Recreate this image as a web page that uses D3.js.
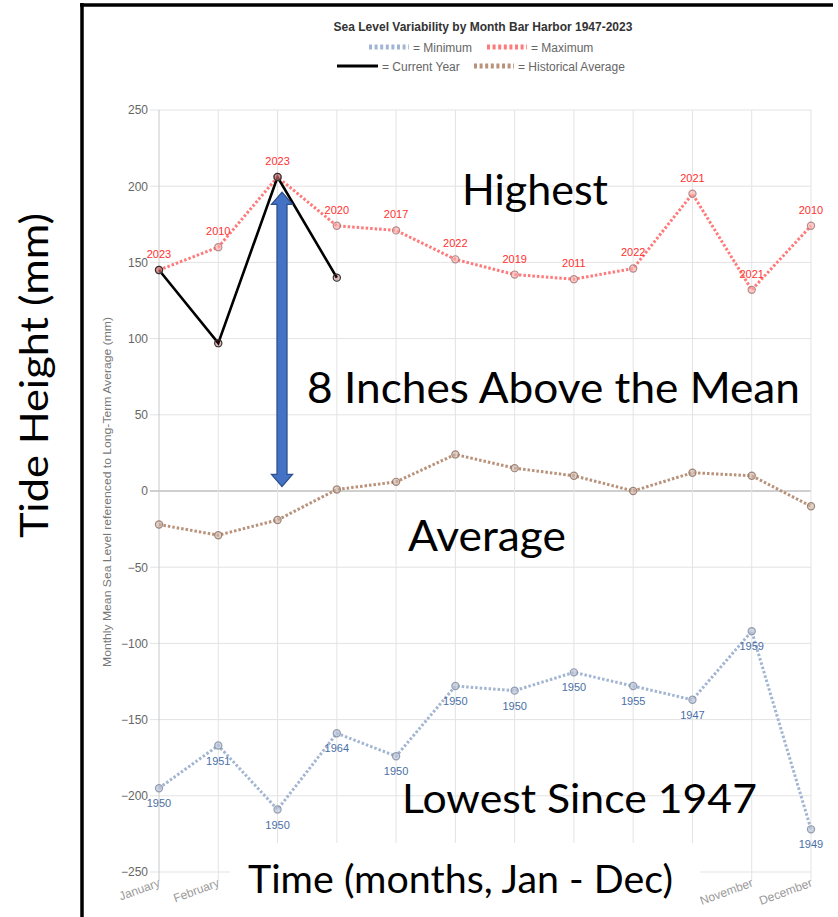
<!DOCTYPE html>
<html>
<head>
<meta charset="utf-8">
<script src="https://cdn.jsdelivr.net/npm/d3@7"></script>
<style>
  html, body { margin: 0; padding: 0; background: #fff; }
  svg { display: block; }
</style>
</head>
<body>
<svg id="chart" width="838" height="917"></svg>
<script>
// ---- data ----
const months = ["January","February","March","April","May","June","July","August","September","October","November","December"];
const maxVals = [145, 160, 206, 174, 171, 152, 142, 139, 146, 195, 132, 174];
const maxYears = ["2023","2010","2023","2020","2017","2022","2019","2011","2022","2021","2021","2010"];
const minVals = [-195, -167, -209, -159, -174, -128, -131, -119, -128, -137, -92, -222];
const minYears = ["1950","1951","1950","1964","1950","1950","1950","1950","1955","1947","1959","1949"];
const avgVals = [-22, -29, -19, 1, 6, 24, 15, 10, 0, 12, 10, -10];
const currentVals = [145, 97, 206, 140];
const yTicks = [250, 200, 150, 100, 50, 0, -50, -100, -150, -200, -250];

const svg = d3.select("#chart");
const x = d3.scalePoint().domain(months).range([159, 811]);
const y = d3.scaleLinear().domain([-250, 250]).range([872, 110]);

const sans = "'Liberation Sans', Arial, sans-serif";
const big = "Lato, 'Open Sans', sans-serif";

// ---- grid ----
const grid = svg.append("g");
grid.selectAll("line.h").data(yTicks).join("line")
  .attr("x1", 150).attr("x2", 811)
  .attr("y1", d => y(d)).attr("y2", d => y(d))
  .attr("stroke", d => d === 0 ? "#a0a0a0" : "#e3e3e3").attr("stroke-width", 1);
grid.selectAll("line.v").data(months).join("line")
  .attr("x1", d => x(d)).attr("x2", d => x(d))
  .attr("y1", 110).attr("y2", 881)
  .attr("stroke", (d, i) => i === 0 ? "#c8c8c8" : "#e3e3e3").attr("stroke-width", 1);

// y axis tick labels via d3 axis
const yAxis = svg.append("g").attr("transform", "translate(159,0)")
  .call(d3.axisLeft(y).tickValues(yTicks).tickSize(0).tickPadding(11));
yAxis.select(".domain").remove();
yAxis.selectAll("text").attr("font-family", sans).attr("font-size", 12).attr("fill", "#666");

// y axis title (small)
svg.append("text")
  .attr("transform", "translate(111,492) rotate(-90)")
  .attr("text-anchor", "middle")
  .attr("font-family", sans).attr("font-size", 10.5).attr("fill", "#777")
  .attr("textLength", 350).attr("lengthAdjust", "spacingAndGlyphs")
  .text("Monthly Mean Sea Level referenced to Long-Term Average (mm)");

// x labels
svg.selectAll("text.xl").data(months).join("text")
  .attr("class", "xl")
  .attr("transform", d => `translate(${x(d) + 2},886) rotate(-20)`)
  .attr("text-anchor", "end")
  .attr("font-family", sans).attr("font-size", 12).attr("fill", "#9a9a9a")
  .text(d => d);

// ---- lines ----
const line = d3.line().x((d, i) => x(months[i])).y(d => y(d));

function series(vals, color, dashed, width) {
  const p = svg.append("path").datum(vals)
    .attr("d", line).attr("fill", "none")
    .attr("stroke", color).attr("stroke-width", width);
  if (dashed) p.attr("stroke-dasharray", "2.5,2");
}
series(avgVals, "#b8927a", true, 3);
series(minVals, "#a3b6d1", true, 3);
series(maxVals, "#ff7a7a", true, 3);
series(currentVals, "#000", false, 2.6);

function points(vals, fill, stroke) {
  svg.append("g").selectAll("circle").data(vals).join("circle")
    .attr("cx", (d, i) => x(months[i])).attr("cy", d => y(d))
    .attr("r", 3.6).attr("fill", fill).attr("stroke", stroke).attr("stroke-width", 1.2);
}
points(avgVals, "rgba(205,180,165,0.6)", "rgba(140,110,95,0.8)");
points(minVals, "rgba(185,195,215,0.7)", "rgba(130,140,160,0.8)");
points(maxVals, "rgba(255,170,170,0.6)", "rgba(160,120,120,0.8)");
points(currentVals, "rgba(120,0,0,0.25)", "#333");

// data labels
svg.append("g").selectAll("text").data(maxYears).join("text")
  .attr("x", (d, i) => x(months[i])).attr("y", (d, i) => y(maxVals[i]) - 12)
  .attr("text-anchor", "middle").attr("font-family", sans).attr("font-size", 11)
  .attr("fill", "#ff3030").text(d => d);
svg.append("g").selectAll("text").data(minYears).join("text")
  .attr("x", (d, i) => x(months[i])).attr("y", (d, i) => y(minVals[i]) + 19)
  .attr("text-anchor", "middle").attr("font-family", sans).attr("font-size", 11)
  .attr("fill", "#4a6fa5").text(d => d);

// ---- title & legend ----
svg.append("text").attr("x", 483).attr("y", 31).attr("text-anchor", "middle")
  .attr("font-family", sans).attr("font-size", 12).attr("font-weight", "bold")
  .attr("fill", "#333").text("Sea Level Variability by Month Bar Harbor 1947-2023");

const legendItems = [
  {x1: 369, x2: 409, y: 47, color: "#a3b6d1", dashed: true, label: "= Minimum"},
  {x1: 487, x2: 527, y: 47, color: "#ff7a7a", dashed: true, label: "= Maximum"},
  {x1: 337, x2: 378, y: 66, color: "#000", dashed: false, label: "= Current Year"},
  {x1: 474, x2: 514, y: 66, color: "#b8927a", dashed: true, label: "= Historical Average"}
];
legendItems.forEach(it => {
  const l = svg.append("line").attr("x1", it.x1).attr("x2", it.x2).attr("y1", it.y).attr("y2", it.y)
    .attr("stroke", it.color).attr("stroke-width", it.dashed ? 5 : 3);
  if (it.dashed) l.attr("stroke-dasharray", "3,2.6");
  svg.append("text").attr("x", it.x2 + 4).attr("y", it.y + 4.5)
    .attr("font-family", sans).attr("font-size", 12).attr("fill", "#666").text(it.label);
});

// ---- arrow ----
const ax = 282, aTop = y(196), aBot = y(3), hw = 10.5, sw = 5, hl = 12;
svg.append("path")
  .attr("d", `M${ax},${aTop} L${ax+hw},${aTop+hl} L${ax+sw},${aTop+hl} L${ax+sw},${aBot-hl} L${ax+hw},${aBot-hl} L${ax},${aBot} L${ax-hw},${aBot-hl} L${ax-sw},${aBot-hl} L${ax-sw},${aTop+hl} L${ax-hw},${aTop+hl} Z`)
  .attr("fill", "#4472c4").attr("stroke", "#2f528f").attr("stroke-width", 1.3);

// ---- annotations ----
function ann(txt, x0, x1, base, size) {
  svg.append("text").attr("x", x0).attr("y", base)
    .attr("font-family", big).attr("font-size", size).attr("fill", "#000")
    .attr("textLength", x1 - x0).attr("lengthAdjust", "spacingAndGlyphs")
    .text(txt);
}
ann("Highest", 462, 608, 205, 42);
ann("8 Inches Above the Mean", 307, 800, 403, 42);
ann("Average", 408, 566, 551, 42);
ann("Lowest Since 1947", 402, 757, 813, 41);

// white box over middle x labels
svg.append("rect").attr("x", 230).attr("y", 843).attr("width", 470).attr("height", 74).attr("fill", "#fff");
ann("Time (months, Jan - Dec)", 248, 673, 893, 39);

// Left outer title
svg.append("text")
  .attr("transform", "translate(48,538) rotate(-90)")
  .attr("font-family", big).attr("font-size", 39).attr("fill", "#000")
  .attr("textLength", 325).attr("lengthAdjust", "spacingAndGlyphs")
  .text("Tide Height (mm)");

// frame
svg.append("line").attr("x1", 82).attr("x2", 82).attr("y1", 3).attr("y2", 917).attr("stroke", "#000").attr("stroke-width", 3.5);
svg.append("line").attr("x1", 80).attr("x2", 833).attr("y1", 5).attr("y2", 5).attr("stroke", "#000").attr("stroke-width", 3.5);
</script>
</body>
</html>
